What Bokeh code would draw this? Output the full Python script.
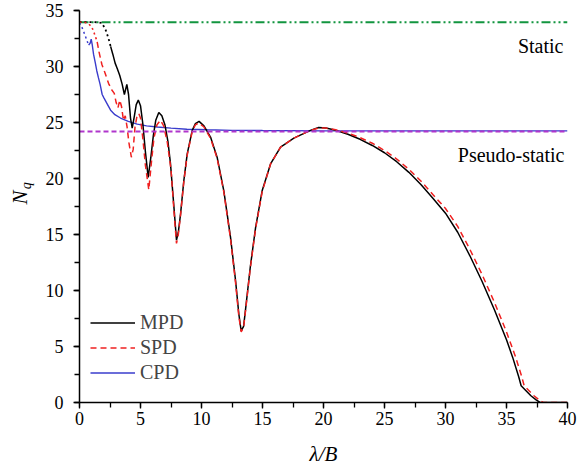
from bokeh.plotting import figure
from bokeh.models import Range1d, Label, Legend, LegendItem, SingleIntervalTicker
from bokeh.embed import file_html
from bokeh.resources import INLINE
import math

# ---- data ----
static_level = 33.96
pseudo_level = 24.2
x_limits = [0, 40]

mpd_dot_x = [0.0, 0.5, 1.0, 1.5, 1.8, 2.1, 2.38, 2.55]
mpd_dot_y = [33.96, 33.96, 33.96, 33.95, 33.9, 33.4, 32.5, 31.8]
mpd_x = [2.55, 2.73, 2.92, 3.1, 3.3, 3.5, 3.68, 3.88, 4.02, 4.18, 4.32, 4.5, 4.65, 4.82, 5.0, 5.2, 5.4, 5.63,
         5.85, 6.05, 6.25, 6.5, 6.75, 7.0, 7.25, 7.46, 7.73, 7.95, 8.1, 8.28, 8.55, 8.83, 9.24, 9.5, 9.8, 10.2,
         10.74, 11.28, 11.83, 12.38, 12.79, 13.06, 13.25, 13.45, 13.6, 14.0, 14.43, 14.97, 15.66, 16.48, 17.57,
         18.93, 19.6, 20.2, 21, 22, 23, 24, 25, 26, 27, 28, 29, 30, 31, 32, 33, 34, 35, 35.5, 36.0, 36.2,
         36.6, 37.0, 37.4, 37.75, 39, 40]
mpd_y = [31.8, 31.1, 30.3, 29.8, 29.2, 28.4, 27.5, 28.4, 27.5, 25.4, 24.5, 25.6, 26.6, 27.0, 26.5, 24.8, 22.4, 20.1,
         21.9, 23.8, 25.2, 25.9, 25.6, 24.8, 23.3, 21.3, 17.6, 14.5, 15.2, 16.8, 19.8, 22.2, 24.3, 24.9, 25.1, 24.7,
         23.7, 21.9, 18.9, 14.75, 10.9, 7.9, 6.4, 6.8, 8.2, 12.1, 15.6, 18.9, 21.3, 22.8, 23.6,
         24.3, 24.55, 24.5, 24.3, 23.95, 23.5, 22.95, 22.3, 21.5, 20.55, 19.45, 18.2, 16.9, 15.2, 13.1, 10.8, 8.3,
         5.6, 4.05, 2.3, 1.5, 1.05, 0.6, 0.25, 0.0, 0.0, 0.0]

spd_dot_x = [0.0, 0.4, 0.7, 1.0, 1.2, 1.45]
spd_dot_y = [33.96, 33.95, 33.85, 33.55, 33.0, 32.2]
spd_x = [1.45, 1.6, 1.83, 2.1, 2.38, 2.65, 2.85, 3.0, 3.15, 3.3, 3.45, 3.6, 3.75, 3.9, 4.05, 4.25, 4.4, 4.55, 4.7,
         4.86, 5.0, 5.2, 5.4, 5.68, 5.9, 6.1, 6.35, 6.64, 6.9, 7.2, 7.5, 7.75, 7.95, 8.1, 8.28, 8.55, 8.83, 9.24,
         9.5, 9.8, 10.2, 10.74, 11.28, 11.83, 12.38, 12.79, 13.06, 13.25, 13.45, 13.6, 14.0, 14.43, 14.97, 15.66,
         16.48, 17.57, 18.93, 19.6, 20.2, 21, 22, 23, 24, 25, 26, 27, 28, 29, 30, 31, 32, 33, 34, 35, 35.75, 36.25,
         36.45, 36.85, 37.25, 37.65, 38.0, 39, 40]
spd_y = [32.2, 31.3, 30.2, 29.4, 28.5, 27.9, 27.6, 26.8, 26.3, 27.0, 26.4, 25.2, 25.6, 24.6, 23.2, 21.9, 22.6, 24.6,
         25.5, 25.8, 25.4, 23.5, 21.2, 19.0, 21.5, 23.6, 24.8, 25.2, 24.7, 23.2, 20.8, 17.0, 14.2, 15.0, 16.7, 19.7,
         22.1, 24.2, 24.8, 24.95, 24.6, 23.6, 21.8, 18.8, 14.6, 10.7, 7.7, 6.3, 6.7, 8.1, 12.0, 15.5, 18.8, 21.3,
         22.8, 23.6, 24.3, 24.5, 24.5, 24.35, 24.05, 23.65, 23.15, 22.5, 21.74, 20.82, 19.76, 18.53, 17.32, 15.72,
         13.67, 11.42, 8.97, 6.3, 4.05, 2.3, 1.5, 1.05, 0.6, 0.25, 0.0, 0.0, 0.0]

cpd_dot_x = [0.0, 0.2, 0.45, 0.75]
cpd_dot_y = [33.9, 33.5, 32.8, 31.9]
cpd_x = [0.75, 0.88, 0.96, 1.05, 1.15, 1.3, 1.42, 1.55, 1.69, 1.86, 2.0, 2.3, 2.55, 2.9, 3.36, 4.0, 4.73, 5.5,
         6.37, 7.5, 8.8, 10.5, 12.5, 15, 20, 30, 40]
cpd_y = [31.9, 32.1, 32.45, 31.9, 31.1, 30.3, 29.6, 29.0, 28.4, 27.5, 27.2, 26.6, 26.1, 25.7, 25.4, 25.1, 24.85,
         24.7, 24.6, 24.5, 24.4, 24.35, 24.3, 24.28, 24.25, 24.25, 24.25]

legend_labels = ["MPD", "SPD", "CPD"]

SERIF = "'Liberation Serif', 'Times New Roman', serif"

p = figure(width=579, height=470, output_backend="svg", toolbar_location=None,
           x_range=Range1d(0, 40), y_range=Range1d(0, 35),
           min_border_left=79, min_border_right=12, min_border_top=10, min_border_bottom=68)
p.outline_line_color = None
p.xgrid.visible = False
p.ygrid.visible = False
p.background_fill_color = "white"
p.border_fill_color = "white"

for ax in (p.xaxis[0], p.yaxis[0]):
    ax.axis_line_color = "black"
    ax.axis_line_width = 1.5
    ax.major_tick_line_color = "black"
    ax.minor_tick_line_color = "black"
    ax.major_tick_line_width = 1.3
    ax.minor_tick_line_width = 1.3
    ax.major_tick_in = 0
    ax.major_tick_out = 6
    ax.minor_tick_in = 0
    ax.minor_tick_out = 5
    ax.major_label_text_font = SERIF
    ax.major_label_text_font_size = "18px"
    ax.major_label_text_color = "black"

p.xaxis[0].ticker = SingleIntervalTicker(interval=5, num_minor_ticks=2)
p.yaxis[0].ticker = SingleIntervalTicker(interval=5, num_minor_ticks=2)
p.xaxis[0].major_label_standoff = 3
p.yaxis[0].major_label_standoff = 10

p.xaxis[0].axis_label = "λ/B"
p.xaxis[0].axis_label_text_font = SERIF
p.xaxis[0].axis_label_text_font_style = "italic"
p.xaxis[0].axis_label_text_font_size = "21px"
p.xaxis[0].axis_label_standoff = 14
p.xaxis[0].axis_label_text_color = "black"

# reference lines
p.line(x_limits, [static_level, static_level], line_color="#12953f", line_width=2, line_dash="9 3 2 3 2 3")

# curves
p.line(cpd_dot_x, cpd_dot_y, line_color="#3a3ccc", line_width=1.5, line_dash="2 3")
r_cpd = p.line(cpd_x, cpd_y, line_color="#3a3ccc", line_width=1.4)
p.line(mpd_dot_x, mpd_dot_y, line_color="black", line_width=1.8, line_dash="2 3")
r_mpd = p.line(mpd_x, mpd_y, line_color="black", line_width=1.5)
p.line(spd_dot_x, spd_dot_y, line_color="#f02020", line_width=1.6, line_dash="2 3")
r_spd = p.line(spd_x, spd_y, line_color="#f02020", line_width=1.5, line_dash="6 4")

p.line(x_limits, [pseudo_level, pseudo_level], line_color="#b036cc", line_width=2, line_dash="5 3")

legend = Legend(items=[LegendItem(label=legend_labels[0], renderers=[r_mpd]),
                       LegendItem(label=legend_labels[1], renderers=[r_spd]),
                       LegendItem(label=legend_labels[2], renderers=[r_cpd])],
                location=(11, 17), padding=0, margin=0, spacing=0,
                glyph_width=45, glyph_height=25, label_height=25, label_standoff=5,
                label_text_font=SERIF, label_text_font_size="20px",
                background_fill_alpha=0, border_line_color=None)
p.add_layout(legend)

p.add_layout(Label(x=39.67, y=31.8, text="Static", text_align="right", text_baseline="alphabetic",
                   text_font=SERIF, text_font_size="20px", text_color="black"))
p.add_layout(Label(x=39.75, y=22.1, text="Pseudo-static", text_align="right", text_baseline="alphabetic",
                   text_font=SERIF, text_font_size="20px", text_color="black"))

# y axis label N_q (placed in the left panel so it is not clipped by the frame)
p.add_layout(Label(x=-4.84, y=18.3, text="N", angle=math.pi / 2, text_align="center", text_baseline="middle",
                   text_font=SERIF, text_font_style="italic", text_font_size="21px", text_color="black"), "left")
p.add_layout(Label(x=-4.35, y=19.35, text="q", angle=math.pi / 2, text_align="center", text_baseline="middle",
                   text_font=SERIF, text_font_style="italic", text_font_size="14px", text_color="black"), "left")

open("out.html", "w").write(file_html(p, INLINE))
